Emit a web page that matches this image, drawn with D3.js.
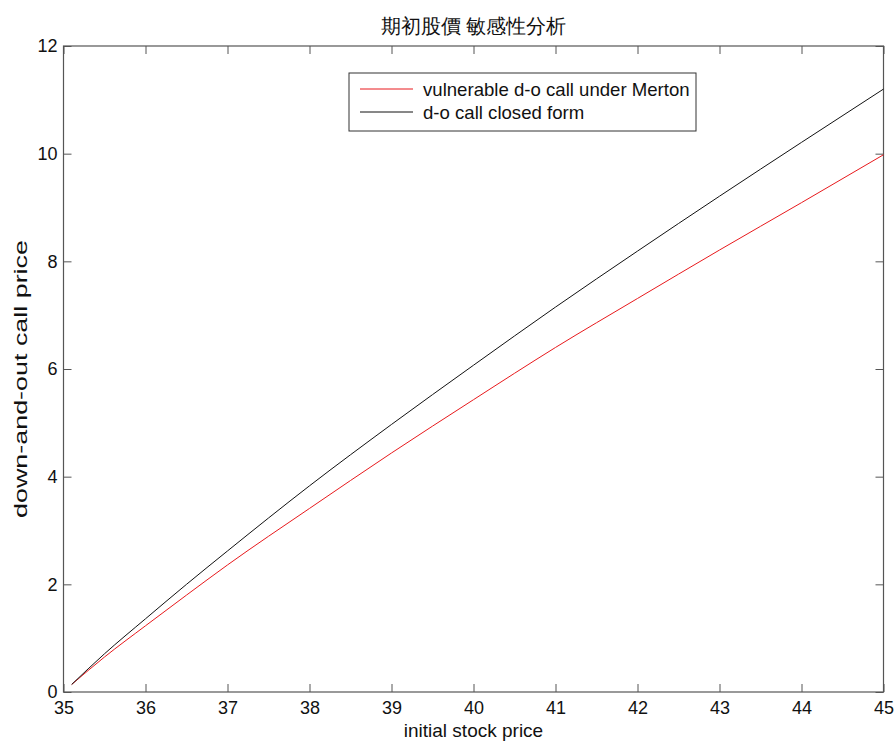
<!DOCTYPE html>
<html>
<head>
<meta charset="utf-8">
<script src="https://cdn.jsdelivr.net/npm/d3@7"></script>
<style>
  html, body { margin: 0; padding: 0; background: #fff; }
  svg { display: block; }
  text { font-family: "Liberation Sans", Arial, sans-serif; fill: #111; }
</style>
</head>
<body>
<svg id="chart" width="896" height="742"></svg>
<script>
// Initial stock price grid
const stockPrice = [35.1, 35.5, 36, 36.5, 37, 38, 39, 40, 41, 42, 43, 44, 45];
// Vulnerable down-and-out call (Merton credit risk)
const vulnerableCall = [0.14, 0.65, 1.23, 1.80, 2.36, 3.41, 4.44, 5.43, 6.40, 7.31, 8.21, 9.09, 9.98];
// Down-and-out call, closed-form price
const closedFormCall = [0.14, 0.71, 1.36, 2.00, 2.62, 3.83, 4.97, 6.07, 7.15, 8.19, 9.21, 10.21, 11.20];

const xTicks = [35, 36, 37, 38, 39, 40, 41, 42, 43, 44, 45];
const yTicks = [0, 2, 4, 6, 8, 10, 12];

const titleText = "期初股價 敏感性分析";
const xLabel = "initial stock price";
const yLabel = "down-and-out call price";
const legendLabels = ["vulnerable d-o call under Merton", "d-o call closed form"];
const seriesColors = ["#e8191c", "#111111"];

const svg = d3.select("#chart");
const plot = { left: 63.5, right: 883.5, top: 46, bottom: 692 };

const x = d3.scaleLinear().domain([35, 45]).range([plot.left, plot.right]);
const y = d3.scaleLinear().domain([0, 12]).range([plot.bottom, plot.top]);

const axisColor = "#555";
const tickLen = 8;
const latin = "Liberation Sans, Arial, sans-serif";

// Box around the axes
svg.append("rect")
  .attr("x", plot.left).attr("y", plot.top)
  .attr("width", plot.right - plot.left).attr("height", plot.bottom - plot.top)
  .attr("fill", "none").attr("stroke", axisColor).attr("stroke-width", 1.2);

// Bottom axis with inward ticks
const xAxis = svg.append("g")
  .attr("transform", `translate(0,${plot.bottom})`)
  .call(d3.axisBottom(x).tickValues(xTicks).tickFormat(d3.format("d"))
    .tickSizeInner(-tickLen).tickSizeOuter(0).tickPadding(9));
xAxis.select(".domain").remove();
xAxis.selectAll("line").attr("stroke", axisColor);
xAxis.selectAll("text").attr("font-size", 18).attr("font-family", latin).attr("fill", "#111");

// Top axis mirror ticks
const xTop = svg.append("g")
  .attr("transform", `translate(0,${plot.top})`)
  .call(d3.axisTop(x).tickValues(xTicks).tickFormat("").tickSizeInner(-tickLen).tickSizeOuter(0));
xTop.select(".domain").remove();
xTop.selectAll("line").attr("stroke", axisColor);

// Left axis with inward ticks
const yAxis = svg.append("g")
  .attr("transform", `translate(${plot.left},0)`)
  .call(d3.axisLeft(y).tickValues(yTicks).tickFormat(d3.format("d"))
    .tickSizeInner(-tickLen).tickSizeOuter(0).tickPadding(6));
yAxis.select(".domain").remove();
yAxis.selectAll("line").attr("stroke", axisColor);
yAxis.selectAll("text").attr("font-size", 18).attr("font-family", latin).attr("fill", "#111")
  .attr("x", -6);

// Right axis mirror ticks
const yRight = svg.append("g")
  .attr("transform", `translate(${plot.right},0)`)
  .call(d3.axisRight(y).tickValues(yTicks).tickFormat("").tickSizeInner(-tickLen).tickSizeOuter(0));
yRight.select(".domain").remove();
yRight.selectAll("line").attr("stroke", axisColor);

// Series lines
const line = d3.line().curve(d3.curveMonotoneX).x(d => x(d[0])).y(d => y(d[1]));
const series = [vulnerableCall, closedFormCall];
series.forEach((vals, i) => {
  svg.append("path")
    .datum(stockPrice.map((s, j) => [s, vals[j]]))
    .attr("fill", "none")
    .attr("stroke", seriesColors[i])
    .attr("stroke-width", 1)
    .attr("d", line);
});

// Title
svg.append("text")
  .attr("x", (plot.left + plot.right) / 2).attr("y", 33)
  .attr("text-anchor", "middle")
  .attr("font-size", 19.5)
  .attr("font-family", "'Noto Sans CJK TC', 'Noto Sans CJK SC', sans-serif")
  .attr("fill", "#222")
  .text(titleText);

// Axis labels
svg.append("text")
  .attr("x", (plot.left + plot.right) / 2).attr("y", 737)
  .attr("text-anchor", "middle").attr("font-size", 19)
  .text(xLabel);

svg.append("text")
  .attr("transform", `translate(27,${(plot.top + plot.bottom) / 2 + 10}) rotate(-90)`)
  .attr("text-anchor", "middle").attr("font-size", 18)
  .attr("textLength", 278).attr("lengthAdjust", "spacingAndGlyphs")
  .text(yLabel);

// Legend
const legend = svg.append("g");
legend.append("rect")
  .attr("x", 349).attr("y", 73).attr("width", 347).attr("height", 58)
  .attr("fill", "#fff").attr("stroke", "#333").attr("stroke-width", 1);
legendLabels.forEach((lab, i) => {
  const ly = 89 + i * 23;
  legend.append("line")
    .attr("x1", 360).attr("x2", 413).attr("y1", ly).attr("y2", ly)
    .attr("stroke", seriesColors[i]).attr("stroke-width", 1);
  legend.append("text")
    .attr("x", 423).attr("y", ly + 6.5)
    .attr("font-size", 18.6)
    .text(lab);
});
</script>
</body>
</html>
